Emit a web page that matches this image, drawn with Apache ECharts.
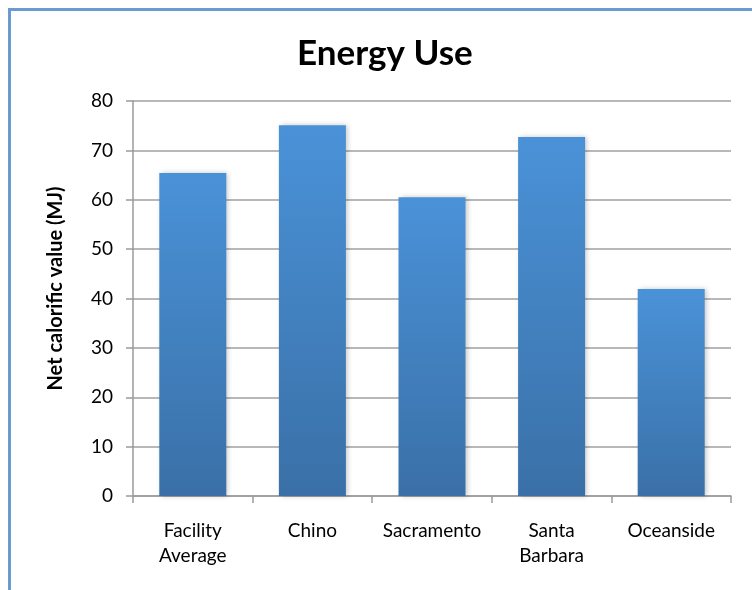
<!DOCTYPE html>
<html>
<head>
<meta charset="utf-8">
<style>
  html, body { margin: 0; padding: 0; background: #ffffff; }
  #chart { width: 752px; height: 590px; }
</style>
<script src="https://cdn.jsdelivr.net/npm/echarts@6/dist/echarts.min.js"></script>
</head>
<body>
<div id="chart"></div>
<script>
// Sites compared and their energy use (net calorific value, MJ)
const categories = ['Facility\nAverage', 'Chino', 'Sacramento', 'Santa\nBarbara', 'Oceanside'];
const energyValues = [65.4, 75.1, 60.5, 72.7, 41.9];
const yTicks = [0, 10, 20, 30, 40, 50, 60, 70, 80];

const chart = echarts.init(document.getElementById('chart'), null, { renderer: 'canvas' });

const fontFamily = 'Lato, "Open Sans", "Noto Sans", sans-serif';

chart.setOption({
  backgroundColor: '#ffffff',
  animation: false,
  graphic: [
    {
      type: 'rect',
      shape: { x: 9.5, y: 9.5, width: 900, height: 900 },
      style: { fill: 'none', stroke: '#6a9bd0', lineWidth: 3 },
      silent: true,
      z: 0
    }
  ],
  title: {
    text: 'Energy Use',
    left: 292,
    top: 31,
    textStyle: { fontFamily, fontSize: 35, fontWeight: 'bold', color: '#000000' }
  },
  grid: { left: 133, right: 21, top: 101, bottom: 94 },
  xAxis: {
    type: 'category',
    data: categories,
    axisLine: { show: true, lineStyle: { color: '#9a9a9a', width: 1.5 } },
    axisTick: { show: true, length: 7, alignWithLabel: false, lineStyle: { color: '#9a9a9a', width: 1.5 } },
    axisLabel: { interval: 0, fontFamily, fontSize: 19, color: '#000000', margin: 22, lineHeight: 25 },
    splitLine: { show: false }
  },
  yAxis: {
    type: 'value',
    min: yTicks[0],
    max: yTicks[yTicks.length - 1],
    interval: yTicks[1] - yTicks[0],
    name: 'Net calorific value (MJ)',
    nameLocation: 'middle',
    nameRotate: 90,
    nameGap: 67,
    nameTextStyle: { fontFamily, fontSize: 20, fontWeight: 'bold', color: '#000000', padding: [0, 0, 0, 20] },
    axisLine: { show: true, lineStyle: { color: '#9a9a9a', width: 1.5 } },
    axisTick: { show: true, length: 7, lineStyle: { color: '#9a9a9a', width: 1.5 } },
    axisLabel: { fontFamily, fontSize: 19, color: '#000000', margin: 20 },
    splitLine: { show: true, lineStyle: { color: '#a0a0a0', width: 1.5 } }
  },
  series: [
    {
      type: 'bar',
      data: energyValues,
      barWidth: 67,
      itemStyle: {
        color: new echarts.graphic.LinearGradient(0, 0, 0, 1, [
          { offset: 0, color: '#4a92d8' },
          { offset: 1, color: '#3a70a7' }
        ]),
        shadowColor: 'rgba(0,0,0,0.22)',
        shadowBlur: 5,
        shadowOffsetX: 2,
        shadowOffsetY: 0
      }
    }
  ]
});
</script>
</body>
</html>
